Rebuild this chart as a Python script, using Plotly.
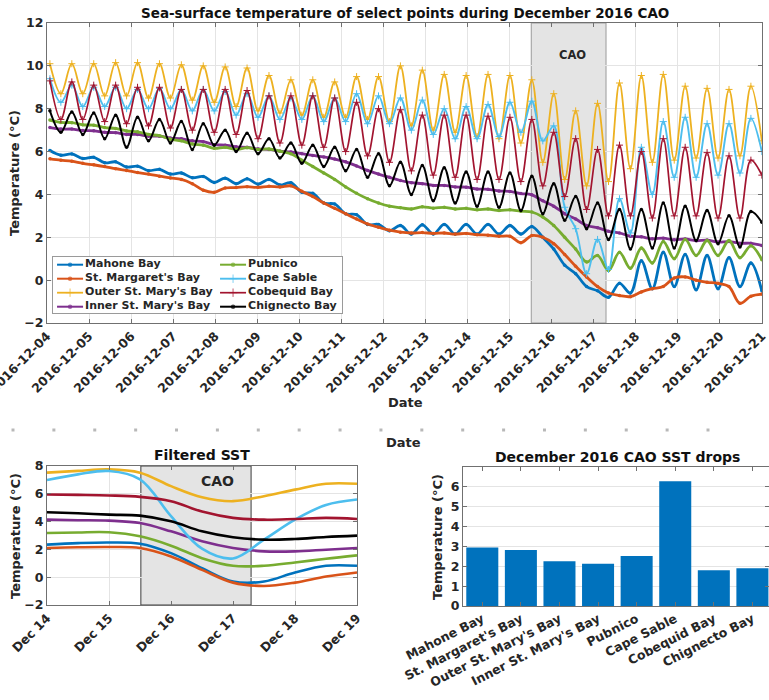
import pandas as pd
import plotly.graph_objects as go

# ---------------------------------------------------------------- data
SITES = ["Mahone Bay", "St. Margaret's Bay", "Outer St. Mary's Bay",
         "Inner St. Mary's Bay", "Pubnico", "Cape Sable", "Cobequid Bay",
         "Chignecto Bay"]
COLORS = ["#0072BD", "#D95319", "#EDB120", "#7E2F8E",
          "#77AC30", "#4DBEEE", "#A2142F", "#000000"]

# successive tidal highs / lows of the hourly record (about 6 h 15 min apart)
TIDE_TIMES = pd.date_range("2016-12-04 01:40", periods=66, freq="375min")

SST_MAHONE = [6.05, 5.83, 5.89, 5.68, 5.73, 5.48, 5.52, 5.28, 5.32, 5.11,
              5.17, 4.95, 5.0, 4.78, 4.84, 4.56, 4.76, 4.5, 4.73, 4.48,
              4.7, 4.44, 4.55, 4.1, 4.05, 3.6, 3.55, 3.1, 3.05, 2.6,
              2.6, 2.3, 2.55, 2.15, 2.58, 2.15, 2.6, 2.15, 2.6, 2.15,
              2.6, 2.15, 2.55, 2.15, 2.5, 2.0, 1.45, 0.7, 0.3, -0.3,
              -0.5, -0.8, -0.15, -0.6, 0.9, -0.4, 1.3, -0.3, 1.2, -0.45,
              1.15, -0.4, 1.05, -0.3, 0.8, -0.5]
SST_ST_MARGARET = [5.66, 5.6, 5.55, 5.45, 5.38, 5.3, 5.2, 5.12, 5.02, 4.95,
                   4.85, 4.77, 4.7, 4.5, 4.2, 4.1, 4.3, 4.32, 4.36, 4.33,
                   4.38, 4.35, 4.4, 4.15, 3.9, 3.6, 3.35, 3.1, 2.85, 2.62,
                   2.47, 2.33, 2.24, 2.2, 2.22, 2.18, 2.2, 2.15, 2.18, 2.12,
                   2.1, 2.05, 2.05, 1.75, 2.08, 2.0, 1.7, 1.2, 0.65, 0.15,
                   -0.3, -0.6, -0.72, -0.77, -0.55, -0.4, -0.3, 0.1, 0.15, 0.0,
                   -0.1, -0.15, -0.3, -1.08, -0.75, -0.65]
SST_OUTER_ST_MARY = [10.1, 8.7, 10.1, 8.7, 10.1, 8.6, 10.15, 8.6, 10.15, 8.5,
                     10.1, 8.5, 10.05, 8.4, 10.0, 8.3, 9.95, 8.1, 9.9, 7.9,
                     9.55, 7.8, 9.35, 7.7, 9.35, 7.6, 9.25, 7.6, 9.5, 7.5,
                     9.5, 7.4, 10.0, 7.2, 9.8, 7.0, 9.6, 6.9, 9.55, 6.7,
                     9.6, 6.6, 9.55, 6.4, 9.35, 5.5, 8.7, 4.7, 7.9, 4.4,
                     8.25, 4.6, 9.2, 5.2, 9.55, 5.5, 9.6, 5.6, 9.05, 5.7,
                     8.95, 5.7, 8.9, 5.8, 9.05, 6.5]
SST_INNER_ST_MARY = [7.12, 7.05, 7.05, 6.98, 6.97, 6.9, 6.88, 6.8, 6.8, 6.72,
                     6.72, 6.63, 6.6, 6.5, 6.46, 6.32, 6.3, 6.22, 6.2, 6.12,
                     6.1, 6.02, 5.98, 5.9, 5.82, 5.75, 5.65, 5.52, 5.33, 5.12,
                     4.95, 4.8, 4.65, 4.55, 4.5, 4.42, 4.42, 4.35, 4.34, 4.25,
                     4.24, 4.16, 4.14, 4.04, 3.98, 3.7, 3.45, 3.1, 2.85, 2.55,
                     2.45, 2.28, 2.2, 2.05, 2.02, 1.93, 1.96, 1.88, 1.92, 1.84,
                     1.87, 1.78, 1.8, 1.72, 1.72, 1.62]
SST_PUBNICO = [7.47, 7.36, 7.35, 7.25, 7.23, 7.12, 7.08, 6.96, 6.92, 6.8,
               6.74, 6.58, 6.5, 6.35, 6.3, 6.15, 6.2, 6.1, 6.18, 6.1,
               6.12, 6.02, 5.9, 5.6, 5.3, 5.0, 4.7, 4.35, 4.05, 3.8,
               3.6, 3.45, 3.38, 3.32, 3.42, 3.36, 3.4, 3.32, 3.35, 3.28,
               3.32, 3.25, 3.28, 3.22, 3.18, 2.95, 2.55, 2.0, 1.45, 0.85,
               1.15, 0.45, 1.3, 0.55, 1.5, 0.8, 1.8, 1.0, 1.9, 1.15,
               1.85, 1.15, 1.85, 1.05, 1.6, 0.95]
SST_CAPE_SABLE = [9.4, 8.3, 9.1, 8.1, 9.0, 8.1, 9.0, 8.0, 8.9, 8.0,
                  8.95, 8.0, 8.9, 7.9, 8.9, 7.9, 8.8, 7.7, 8.7, 7.6,
                  8.6, 7.5, 8.5, 7.5, 8.6, 7.4, 8.5, 7.4, 8.7, 7.3,
                  8.6, 7.3, 8.5, 7.0, 8.4, 6.8, 8.0, 6.6, 8.1, 6.6,
                  8.2, 6.7, 8.3, 6.9, 8.35, 6.5, 7.2, 3.4, 2.4, 0.3,
                  1.9, 0.5, 3.8, 2.2, 6.2, 4.0, 7.4, 4.8, 7.6, 4.8,
                  7.3, 4.9, 7.3, 5.0, 7.55, 6.0]
SST_COBEQUID = [9.3, 7.5, 9.25, 7.5, 9.1, 7.4, 9.1, 7.3, 9.0, 7.2,
                9.0, 7.1, 8.9, 7.0, 8.9, 6.9, 8.9, 6.8, 8.85, 6.6,
                8.6, 6.4, 8.6, 6.3, 8.6, 6.2, 8.5, 6.0, 8.3, 5.8,
                8.0, 5.5, 7.95, 5.1, 7.7, 4.9, 7.7, 4.8, 7.7, 4.7,
                7.65, 4.7, 7.6, 4.6, 7.5, 4.4, 6.9, 3.9, 6.6, 3.3,
                6.1, 3.0, 6.3, 3.0, 6.0, 2.9, 6.6, 3.0, 6.2, 3.0,
                5.95, 2.9, 5.8, 2.9, 5.6, 4.9]
SST_CHIGNECTO = [7.9, 6.9, 7.85, 6.8, 7.8, 6.6, 7.7, 6.2, 7.6, 6.5,
                 7.5, 6.4, 7.4, 6.1, 7.3, 6.3, 7.0, 6.0, 6.85, 5.9,
                 6.6, 5.7, 6.4, 5.45, 6.3, 5.3, 6.2, 5.1, 6.1, 4.8,
                 5.9, 4.4, 5.5, 4.0, 5.35, 3.7, 5.25, 3.6, 5.05, 3.45,
                 5.05, 3.4, 5.0, 3.25, 4.85, 3.1, 4.5, 2.8, 3.9, 2.4,
                 3.6, 1.9, 3.3, 1.45, 3.3, 1.5, 3.6, 1.5, 3.45, 1.85,
                 3.25, 1.7, 3.0, 1.55, 3.2, 2.7]

SST_SERIES = [SST_MAHONE, SST_ST_MARGARET, SST_OUTER_ST_MARY, SST_INNER_ST_MARY,
              SST_PUBNICO, SST_CAPE_SABLE, SST_COBEQUID, SST_CHIGNECTO]

# low-pass filtered SST, Dec 14 - Dec 19, every 12 h
FILT_TIMES = pd.date_range("2016-12-14", "2016-12-19", freq="12h")
FILT_MAHONE = [2.34, 2.45, 2.5, 2.41, 1.73, 0.65, -0.31, -0.31, 0.34, 0.82, 0.82]
FILT_ST_MARGARET = [2.1, 2.15, 2.17, 2.1, 1.49, 0.53, -0.39, -0.63, -0.39, 0.05, 0.34]
FILT_OUTER_ST_MARY = [7.52, 7.65, 7.76, 7.52, 6.55, 5.75, 5.47, 5.83, 6.3, 6.72, 6.72]
FILT_INNER_ST_MARY = [4.14, 4.1, 4.07, 3.9, 3.3, 2.58, 2.1, 1.86, 1.86, 1.98, 2.1]
FILT_PUBNICO = [3.18, 3.22, 3.23, 2.94, 2.27, 1.37, 0.82, 0.82, 1.06, 1.33, 1.57]
FILT_CAPE_SABLE = [6.99, 7.4, 7.64, 7.04, 4.39, 2.05, 1.35, 2.7, 4.14, 5.2, 5.59]
FILT_COBEQUID = [5.95, 5.92, 5.88, 5.78, 5.47, 4.72, 4.27, 4.14, 4.19, 4.27, 4.19]
FILT_CHIGNECTO = [4.67, 4.6, 4.5, 4.43, 4.02, 3.3, 2.87, 2.7, 2.75, 2.89, 2.99]

FILT_SERIES = [FILT_MAHONE, FILT_ST_MARGARET, FILT_OUTER_ST_MARY, FILT_INNER_ST_MARY,
               FILT_PUBNICO, FILT_CAPE_SABLE, FILT_COBEQUID, FILT_CHIGNECTO]

# SST drop across the cold-air outbreak
SST_DROP = [2.95, 2.82, 2.25, 2.13, 2.52, 6.28, 1.80, 1.90]

CAO_START = "2016-12-15 12:20"
CAO_END = "2016-12-17 07:00"

DAY_TICKS = pd.date_range("2016-12-04", "2016-12-21", freq="D")
FILT_TICKS = pd.date_range("2016-12-14", "2016-12-19", freq="D")

# ---------------------------------------------------------------- styling
W, H = 769, 700
FONT = "DejaVu Sans"
TXT = "#262626"
AXC = "#707070"
GRID = "#e4e4e4"

LINE_W = [2.8, 2.8, 1.8, 2.8, 2.8, 1.9, 1.7, 2.0]
SYMBOL = ["circle", "circle", "cross-thin", "circle", "circle",
          "cross-thin", "cross-thin", "circle"]


def px(x):
    return x / W


def py(y):
    return 1 - y / H


def marker(i, size=None):
    c = COLORS[i]
    if SYMBOL[i] == "cross-thin":
        return dict(symbol="cross-thin", size=size or 5, color=c,
                    line=dict(width=1, color=c))
    return dict(symbol="circle", size=size or 3.5, color=c, line=dict(width=0))


def axis(**kw):
    base = dict(showline=True, linecolor=AXC, linewidth=1, mirror="ticks",
                ticks="inside", ticklen=4, tickcolor=AXC, zeroline=False,
                gridcolor=GRID, automargin=False, ticklabeloverflow="allow",
                tickfont=dict(family=FONT, size=12.5, color=TXT, weight="bold"))
    base.update(kw)
    return base


fig = go.Figure()

# top panel: tidal SST records
for i, name in enumerate(SITES):
    fig.add_trace(go.Scatter(
        x=TIDE_TIMES, y=SST_SERIES[i], name=name, mode="lines+markers",
        line=dict(color=COLORS[i], width=LINE_W[i], shape="spline", smoothing=1),
        marker=marker(i), showlegend=False, xaxis="x", yaxis="y"))

# bottom-left panel: filtered SST
for i, name in enumerate(SITES):
    fig.add_trace(go.Scatter(
        x=FILT_TIMES, y=FILT_SERIES[i], name=name, mode="lines",
        line=dict(color=COLORS[i], width=2.6, shape="spline", smoothing=1),
        showlegend=False, xaxis="x2", yaxis="y2"))

# bottom-right panel: SST drop per site
fig.add_trace(go.Bar(x=SITES, y=SST_DROP, marker=dict(color="#0072BD", line=dict(width=0)),
                     showlegend=False, xaxis="x3", yaxis="y3"))

# faint row of day ticks left between the panels
fig.add_trace(go.Scatter(
    x=DAY_TICKS, y=[0] * len(DAY_TICKS), mode="markers", cliponaxis=False,
    marker=dict(symbol="square", size=[3] * len(DAY_TICKS), color="#9a9a9a",
                line=dict(width=0)),
    showlegend=False, hoverinfo="skip", xaxis="x4", yaxis="y4"))

# legend box of the top panel (two columns of four)
for i, name in enumerate(SITES):
    col, row = divmod(i, 4)
    x0 = 0.014 + 0.564 * col
    x1 = x0 + 0.09
    yy = row + 0.55
    m = marker(i)
    m["size"] = [0, m["size"] + 1, 0]
    fig.add_trace(go.Scatter(
        x=[x0, (x0 + x1) / 2, x1], y=[yy] * 3, mode="lines+markers",
        line=dict(color=COLORS[i], width=min(LINE_W[i], 2)), marker=m,
        showlegend=False, hoverinfo="skip", xaxis="x5", yaxis="y5"))
    fig.add_trace(go.Scatter(
        x=[x1 + 0.007], y=[yy], mode="text", text=[name],
        textposition="middle right", cliponaxis=False,
        textfont=dict(family=FONT, size=11, color=TXT, weight="bold"),
        showlegend=False, hoverinfo="skip", xaxis="x5", yaxis="y5"))

fig.update_layout(
    width=W, height=H, margin=dict(l=0, r=0, t=0, b=0, pad=0),
    paper_bgcolor="white", plot_bgcolor="white", showlegend=False,
    font=dict(family=FONT, size=12.5, color=TXT, weight="bold"),
    bargap=0.17,
    xaxis=axis(domain=[px(47), px(762)], anchor="y", type="date",
               range=["2016-12-04", "2016-12-21"], tickvals=DAY_TICKS,
               tickformat="%Y-%m-%d", tickangle=-45, showgrid=True),
    yaxis=axis(domain=[py(323), py(23)], anchor="x", range=[-2, 12], dtick=2,
               showgrid=True),
    xaxis2=axis(domain=[px(47), px(357)], anchor="y2", type="date",
                range=["2016-12-14", "2016-12-19"], tickvals=FILT_TICKS,
                tickformat="%b %d", tickangle=-45, showgrid=True),
    yaxis2=axis(domain=[py(605), py(466)], anchor="x2", range=[-2, 8], dtick=2,
                showgrid=True),
    xaxis3=axis(domain=[px(463), 1.0], anchor="y3", type="category",
                range=[-0.5, 7.43], tickangle=-27, showgrid=False),
    yaxis3=axis(domain=[py(606), py(467)], anchor="x3", range=[0, 7],
                tickvals=[0, 1, 2, 3, 4, 5, 6], showgrid=True),
    xaxis4=dict(domain=[px(13), px(708)], anchor="y4", type="date",
                range=["2016-12-04", "2016-12-21"], showline=False, showgrid=False,
                zeroline=False, showticklabels=False, ticks=""),
    yaxis4=dict(domain=[py(440), py(420)], anchor="x4", range=[-1, 1], showline=False,
                showgrid=False, zeroline=False, showticklabels=False, ticks=""),
    xaxis5=dict(domain=[px(53), px(342)], anchor="y5", range=[0, 1],
                showline=True, mirror=True, linecolor="#9a9a9a", linewidth=1,
                showgrid=False, zeroline=False, showticklabels=False, ticks=""),
    yaxis5=dict(domain=[py(313), py(257)], anchor="x5", range=[4, 0],
                showline=True, mirror=True, linecolor="#9a9a9a", linewidth=1,
                showgrid=False, zeroline=False, showticklabels=False, ticks=""),
)

# cold-air outbreak window
fig.add_shape(type="rect", xref="x", yref="y domain", x0=CAO_START, x1=CAO_END,
              y0=0, y1=1, fillcolor="#e4e4e4", line=dict(color="#9a9a9a", width=1),
              layer="below")
fig.add_shape(type="rect", xref="x2", yref="y2 domain", x0=CAO_START, x1=CAO_END,
              y0=0, y1=1, fillcolor="#e4e4e4", line=dict(color="#3c3c3c", width=1),
              layer="below")


def label(text, x, y, size=13, angle=0, xref="paper", yref="paper", color=TXT):
    fig.add_annotation(text=text, x=x, y=y, xref=xref, yref=yref, showarrow=False,
                       textangle=angle, xanchor="center", yanchor="middle",
                       font=dict(family=FONT, size=size, color=color, weight="bold"))


label("Sea-surface temperature of select points during December 2016 CAO",
      px(405), py(13), size=13.5, color="#111111")
label("CAO", "2016-12-16 12:00", 10.5, size=11.5, xref="x", yref="y")
label("Temperature (°C)", px(15), py(173), angle=-90)
label("Date", px(405), py(402))
label("Date", px(403), py(442))

label("Filtered SST", px(202), py(455), size=14, color="#111111")
label("CAO", "2016-12-16 18:00", 6.9, size=14, xref="x2", yref="y2")
label("Temperature (°C)", px(15), py(536), angle=-90)

label("December 2016 CAO SST drops", px(617), py(457), size=14, color="#111111")
label("Temperature (°C)", px(437), py(537), angle=-90)

fig.write_html("out.html")
